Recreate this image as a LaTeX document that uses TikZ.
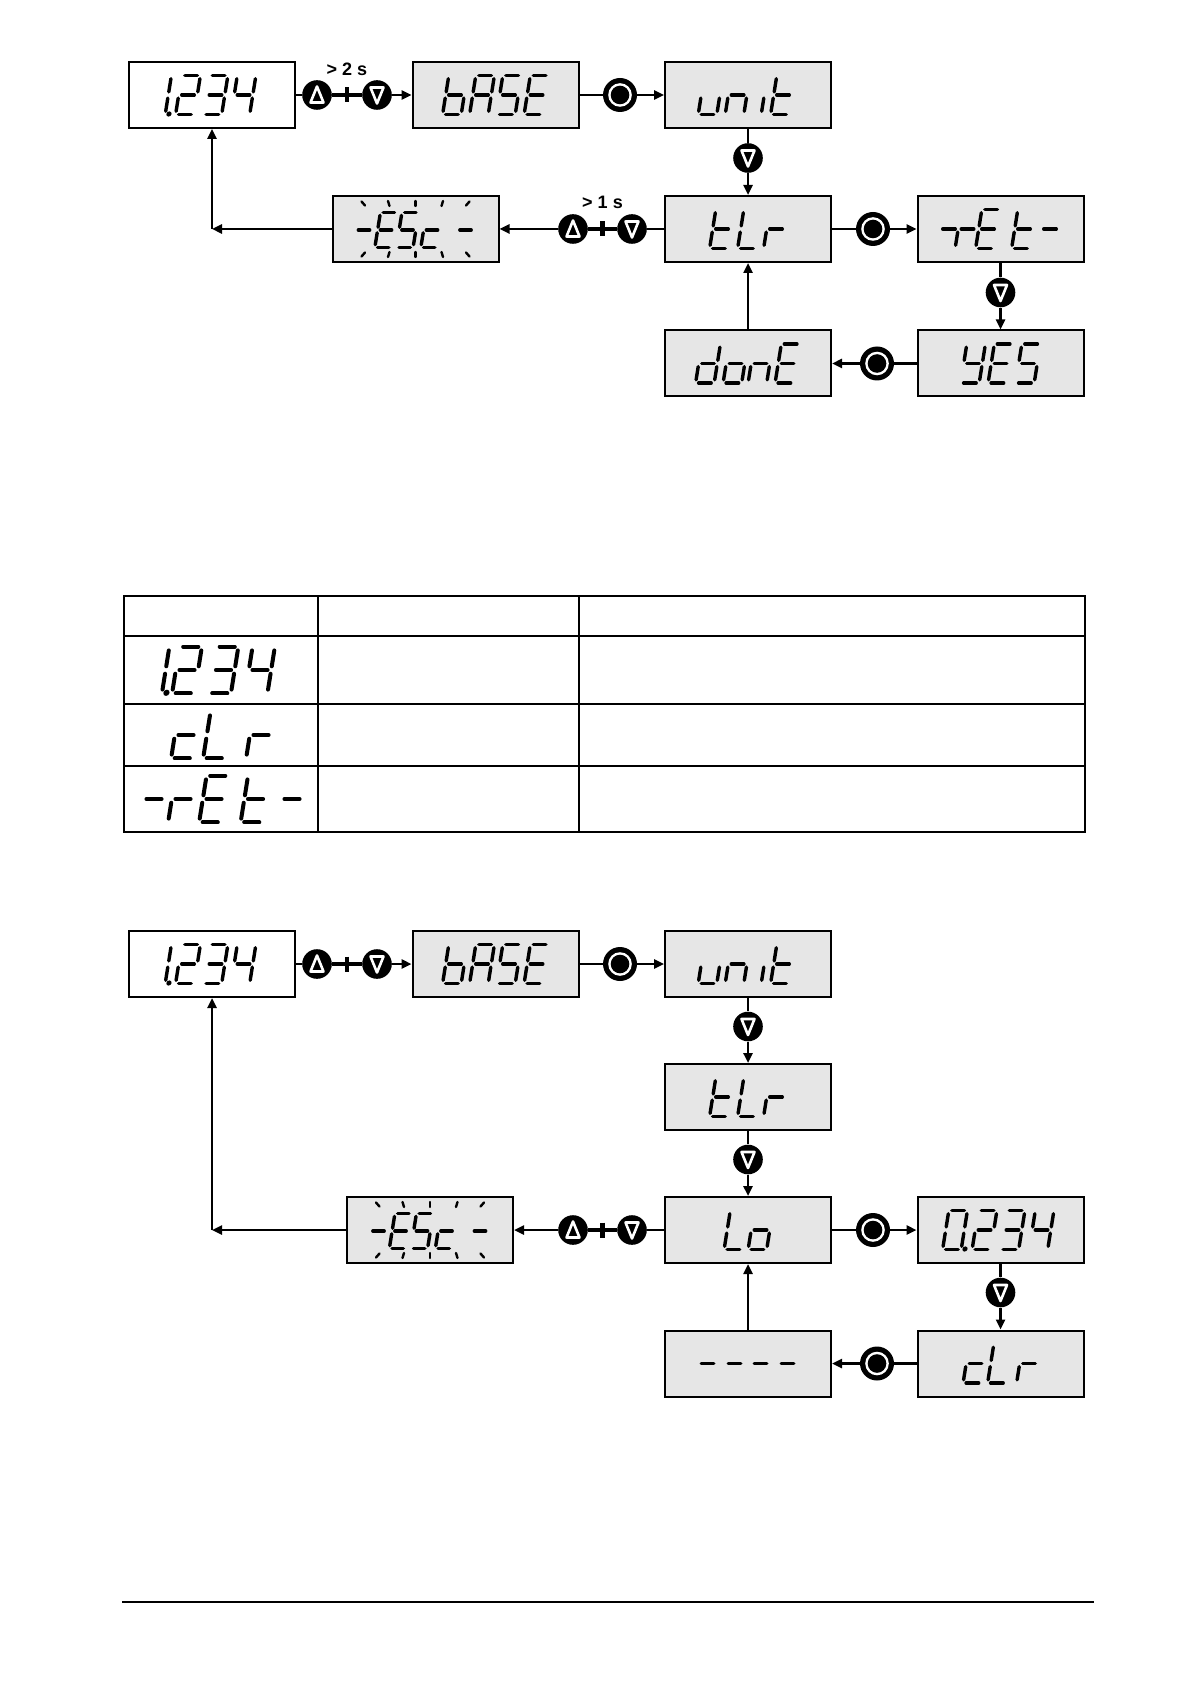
\documentclass[tikz,border=0pt]{standalone}
\usepackage{fontspec}
\setmainfont{Liberation Sans}
\usetikzlibrary{arrows.meta,calc}
\definecolor{lcd}{RGB}{230,230,230}
% seven-segment pieces (glyph-local pixel units, y downwards)
\newcommand\zsga{\draw[segline] (-6.3,-19.5) -- (6.3,-19.5);}
\newcommand\zsgb{\draw[segline] (9.3,-16.3) -- (9.3,-3.1);}
\newcommand\zsgc{\draw[segline] (9.3,3.1) -- (9.3,16.3);}
\newcommand\zsgd{\draw[segline] (-6.3,19.5) -- (6.3,19.5);}
\newcommand\zsge{\draw[segline] (-9.3,3.1) -- (-9.3,16.3);}
\newcommand\zsgf{\draw[segline] (-9.3,-16.3) -- (-9.3,-3.1);}
\newcommand\zsgg{\draw[segline] (-6.3,0) -- (6.3,0);}
\newcommand\zsgp{\fill (13,19) circle (1.3pt);}
% \gl{x}{y}{scale}{segments}
\newcommand\gl[4]{\begin{scope}[shift={(#1,#2)},xslant=0.16,scale=#3]
  \foreach \s in {#4}{\csname zsg\s\endcsname}\end{scope}}
\newcommand\blinkmarks{%
  \draw[tick] (-54,-27.5) -- (-50.5,-23.5);
  \draw[tick] (-27.5,-28) -- (-26,-23);
  \draw[tick] (0,-28) -- (0,-23);
  \draw[tick] (27.5,-28) -- (26,-23);
  \draw[tick] (54,-27.5) -- (50.5,-23.5);
  \draw[tick] (-54,27.5) -- (-50.5,23.5);
  \draw[tick] (-27.5,28) -- (-26,23);
  \draw[tick] (0,28) -- (0,23);
  \draw[tick] (27.5,28) -- (26,23);
  \draw[tick] (54,27.5) -- (50.5,23.5);}
% displays
\newcommand\dOneTwoThreeFour[1]{\begin{scope}[shift={(#1)}]
  \gl{-52.5}{0}{1}{b,c,p}\gl{-23.5}{0}{1}{a,b,g,e,d}\gl{4}{0}{1}{a,b,g,c,d}\gl{32}{0}{1}{f,g,b,c}\end{scope}}
\newcommand\dBase[1]{\begin{scope}[shift={(#1)}]
  \gl{-40.5}{0}{1}{f,e,d,c,g}\gl{-13.5}{0}{1}{a,b,c,e,f,g}\gl{13.5}{0}{1}{a,f,g,c,d}\gl{41}{0}{1}{a,f,g,e,d}\end{scope}}
\newcommand\dUnit[1]{\begin{scope}[shift={(#1)}]
  \gl{-37.4}{0}{1}{e,d,c}\gl{-10.4}{0}{1}{e,g,c}\gl{7}{0}{1}{c}\gl{35}{0}{1}{f,e,g,d}\end{scope}}
\newcommand\dTlr[1]{\begin{scope}[shift={(#1)}]
  \gl{-26}{0}{1}{f,e,g,d}\gl{2}{0}{1}{f,e,d}\gl{28}{0}{1}{e,g}\end{scope}}
\newcommand\dEsc[1]{\begin{scope}[shift={(#1)}]
  \gl{-51.5}{1}{0.9}{g}\gl{-29.5}{1}{0.9}{a,f,g,e,d}\gl{-8}{1}{0.9}{a,f,g,c,d}\gl{16.5}{1}{0.9}{g,e,d}\gl{50}{1}{0.9}{g}\blinkmarks\end{scope}}
\tikzset{
  disp/.style={draw, line width=1pt, fill=lcd, minimum width=83pt, minimum height=33pt, inner sep=0pt},
  dispw/.style={disp, fill=white},
  conn/.style={line width=1.2pt},
  arr/.style={conn, -{Triangle[length=5pt,width=4.5pt]}},
  dbl/.style={line width=2pt},
  plusbar/.style={line width=2.2pt},
  segline/.style={line width=1.7pt, line cap=round},
  tick/.style={line width=1.2pt, line cap=round},
  lbl/.style={font=\bfseries\fontsize{9}{11}\selectfont, inner sep=0pt},
  keyup/.style={circle, fill=black, minimum size=14.8pt, inner sep=0pt,
    path picture={\draw[white,line width=1.3pt,line join=round]
      ([shift={(0,-8.5)}]path picture bounding box.center) --
      ([shift={(6.5,7.5)}]path picture bounding box.center) --
      ([shift={(-6.5,7.5)}]path picture bounding box.center) -- cycle;}},
  keydn/.style={circle, fill=black, minimum size=14.8pt, inner sep=0pt,
    path picture={\draw[white,line width=1.3pt,line join=round]
      ([shift={(0,8.5)}]path picture bounding box.center) --
      ([shift={(6.5,-7.5)}]path picture bounding box.center) --
      ([shift={(-6.5,-7.5)}]path picture bounding box.center) -- cycle;}},
  enter/.style={circle, fill=black, minimum size=17pt, inner sep=0pt,
    path picture={\fill[white] (path picture bounding box.center) circle (5.9pt);
      \fill[black] (path picture bounding box.center) circle (4.65pt);}}
}
\begin{document}
\begin{tikzpicture}[x=0.5pt,y=-0.5pt]
\useasboundingbox (0,0) rectangle (1190,1684);
\fill[white] (0,0) rectangle (1190,1684);

% ================= top diagram =================
\node[dispw] (A) at (211.5,95) {};
\node[disp] (base) at (495.5,95) {};
\node[disp] (unit) at (748,95) {};
\node[disp] (tlr) at (748,229) {};
\node[disp] (esc) at (415.5,229) {};
\node[disp] (ret) at (1000.5,229) {};
\node[disp] (yes) at (1000.5,363.5) {};
\node[disp] (done) at (748,363.5) {};
\node[keyup] (u1) at (317,95) {};
\node[keydn] (d1) at (377,95) {};
\node[enter] (e1) at (620,95) {};
\node[keydn] (d2) at (748,158) {};
\node[keyup] (u3) at (573,229) {};
\node[keydn] (d3) at (632,229) {};
\node[enter] (e2) at (873,229) {};
\node[keydn] (d4) at (1000.5,292.5) {};
\node[enter] (e3) at (877,363.5) {};
\node[lbl] (l1) at (347,69) {> 2 s};
\node[lbl] (l2) at (602.5,202) {> 1 s};
\coordinate (c1) at (212,229);

\draw[conn] (A) -- (u1);
\draw[dbl] (u1) -- (d1);
\coordinate (p1) at ($(u1)!0.5!(d1)$);
\draw[plusbar] ($(p1)+(0,-7.5)$) -- ($(p1)+(0,7.5)$);
\draw[arr] (d1) -- (base);
\draw[conn] (base) -- (e1);
\draw[arr] (e1) -- (unit);
\draw[conn] (unit) -- (d2);
\draw[arr] (d2) -- (tlr);
\draw[conn] (tlr) -- (d3);
\draw[dbl] (d3) -- (u3);
\coordinate (p2) at ($(u3)!0.5!(d3)$);
\draw[plusbar] ($(p2)+(0,-7.5)$) -- ($(p2)+(0,7.5)$);
\draw[arr] (u3) -- (esc);
\draw[arr] (esc) -- (c1);
\draw[arr] (c1) -- (c1 |- A.south);
\draw[conn] (tlr) -- (e2);
\draw[arr] (e2) -- (ret);
\draw[conn] (ret) -- (d4);
\draw[arr] (d4) -- (yes);
\draw[conn] (yes) -- (e3);
\draw[arr] (e3) -- (done);
\draw[arr] (done) -- (tlr);

\dOneTwoThreeFour{A.center}
\dBase{base.center}
\dUnit{unit.center}
\dTlr{tlr.center}
\dEsc{esc.center}
\begin{scope}[shift={(ret.center)}]
  \gl{-51.5}{0}{1}{g}\gl{-33}{0}{1}{e,g}\gl{-12.5}{0}{1}{a,f,g,e,d}\gl{23.5}{0}{1}{f,e,g,d}\gl{49.5}{0}{1}{g}
\end{scope}
\begin{scope}[shift={(yes.center)}]
  \gl{-27.5}{0}{1}{f,g,b,c,d}\gl{0}{0}{1}{a,f,g,e,d}\gl{27.5}{0}{1}{a,f,g,c,d}
\end{scope}
\begin{scope}[shift={(done.center)}]
  \gl{-40}{0}{1}{b,c,d,e,g}\gl{-12.5}{0}{1}{g,c,d,e}\gl{12.5}{0}{1}{e,g,c}\gl{39.5}{0}{1}{a,f,g,e,d}
\end{scope}

% ================= table =================
\begin{scope}[line width=0.6pt]
\draw (124,596) rectangle (1085,832);
\draw (124,636) -- (1085,636);
\draw (124,704) -- (1085,704);
\draw (124,766) -- (1085,766);
\draw (318,596) -- (318,832);
\draw (579,596) -- (579,832);
\end{scope}
\begin{scope}[segline/.style={line width=2pt, line cap=round}]
  \gl{154.5}{670}{1.2}{b,c,p}\gl{187}{670}{1.2}{a,b,g,e,d}\gl{223.5}{670}{1.2}{a,b,g,c,d}\gl{260}{670}{1.2}{f,g,b,c}
  \gl{186}{735}{1.2}{g,e,d}\gl{218}{735}{1.2}{f,e,d}\gl{261}{735}{1.2}{e,g}
  \gl{154}{799}{1.2}{g}\gl{183}{799}{1.2}{e,g}\gl{214}{799}{1.2}{a,f,g,e,d}\gl{255.5}{799}{1.2}{f,e,g,d}\gl{292}{799}{1.2}{g}
\end{scope}

% ================= bottom diagram =================
\node[dispw] (A2) at (211.5,964) {};
\node[disp] (base2) at (495.5,964) {};
\node[disp] (unit2) at (748,964) {};
\node[disp] (tlr2) at (748,1097) {};
\node[disp] (lo) at (748,1230) {};
\node[disp] (esc2) at (430,1230) {};
\node[disp] (val) at (1000.5,1230) {};
\node[disp] (clr) at (1000.5,1363.5) {};
\node[disp] (dash) at (748,1363.5) {};
\node[keyup] (u5) at (317,964) {};
\node[keydn] (d5) at (377,964) {};
\node[enter] (e5) at (620,964) {};
\node[keydn] (d6) at (748,1026.5) {};
\node[keydn] (d7) at (748,1159.5) {};
\node[keyup] (u8) at (573,1230) {};
\node[keydn] (d8) at (632,1230) {};
\node[enter] (e6) at (873,1230) {};
\node[keydn] (d9) at (1000.5,1292.5) {};
\node[enter] (e7) at (877,1363.5) {};
\coordinate (c2) at (212,1230);

\draw[conn] (A2) -- (u5);
\draw[dbl] (u5) -- (d5);
\coordinate (p5) at ($(u5)!0.5!(d5)$);
\draw[plusbar] ($(p5)+(0,-7.5)$) -- ($(p5)+(0,7.5)$);
\draw[arr] (d5) -- (base2);
\draw[conn] (base2) -- (e5);
\draw[arr] (e5) -- (unit2);
\draw[conn] (unit2) -- (d6);
\draw[arr] (d6) -- (tlr2);
\draw[conn] (tlr2) -- (d7);
\draw[arr] (d7) -- (lo);
\draw[conn] (lo) -- (d8);
\draw[dbl] (d8) -- (u8);
\coordinate (p8) at ($(u8)!0.5!(d8)$);
\draw[plusbar] ($(p8)+(0,-7.5)$) -- ($(p8)+(0,7.5)$);
\draw[arr] (u8) -- (esc2);
\draw[arr] (esc2) -- (c2);
\draw[arr] (c2) -- (c2 |- A2.south);
\draw[conn] (lo) -- (e6);
\draw[arr] (e6) -- (val);
\draw[conn] (val) -- (d9);
\draw[arr] (d9) -- (clr);
\draw[conn] (clr) -- (e7);
\draw[arr] (e7) -- (dash);
\draw[arr] (dash) -- (lo);

\dOneTwoThreeFour{A2.center}
\dBase{base2.center}
\dUnit{unit2.center}
\dTlr{tlr2.center}
\dEsc{esc2.center}
\begin{scope}[shift={(lo.center)}]
  \gl{-11.5}{0}{1}{f,e,d}\gl{12.5}{0}{1}{g,c,d,e}
\end{scope}
\begin{scope}[shift={(val.center)}]
  \gl{-45.5}{0}{1}{a,b,c,d,e,f,p}\gl{-16}{0}{1}{a,b,g,e,d}\gl{12}{0}{1}{a,b,g,c,d}\gl{41}{0}{1}{f,g,b,c}
\end{scope}
\begin{scope}[shift={(clr.center)}]
  \gl{-25}{0}{1}{g,e,d}\gl{-0.5}{0}{1}{f,e,d}\gl{28.5}{0}{1}{e,g}
\end{scope}
\begin{scope}[shift={(dash.center)}]
  \gl{-40.5}{0}{1}{g}\gl{-13.5}{0}{1}{g}\gl{12.5}{0}{1}{g}\gl{39.5}{0}{1}{g}
\end{scope}

% footer rule
\draw[line width=0.75pt] (122,1602) -- (1094,1602);
\end{tikzpicture}
\end{document}
